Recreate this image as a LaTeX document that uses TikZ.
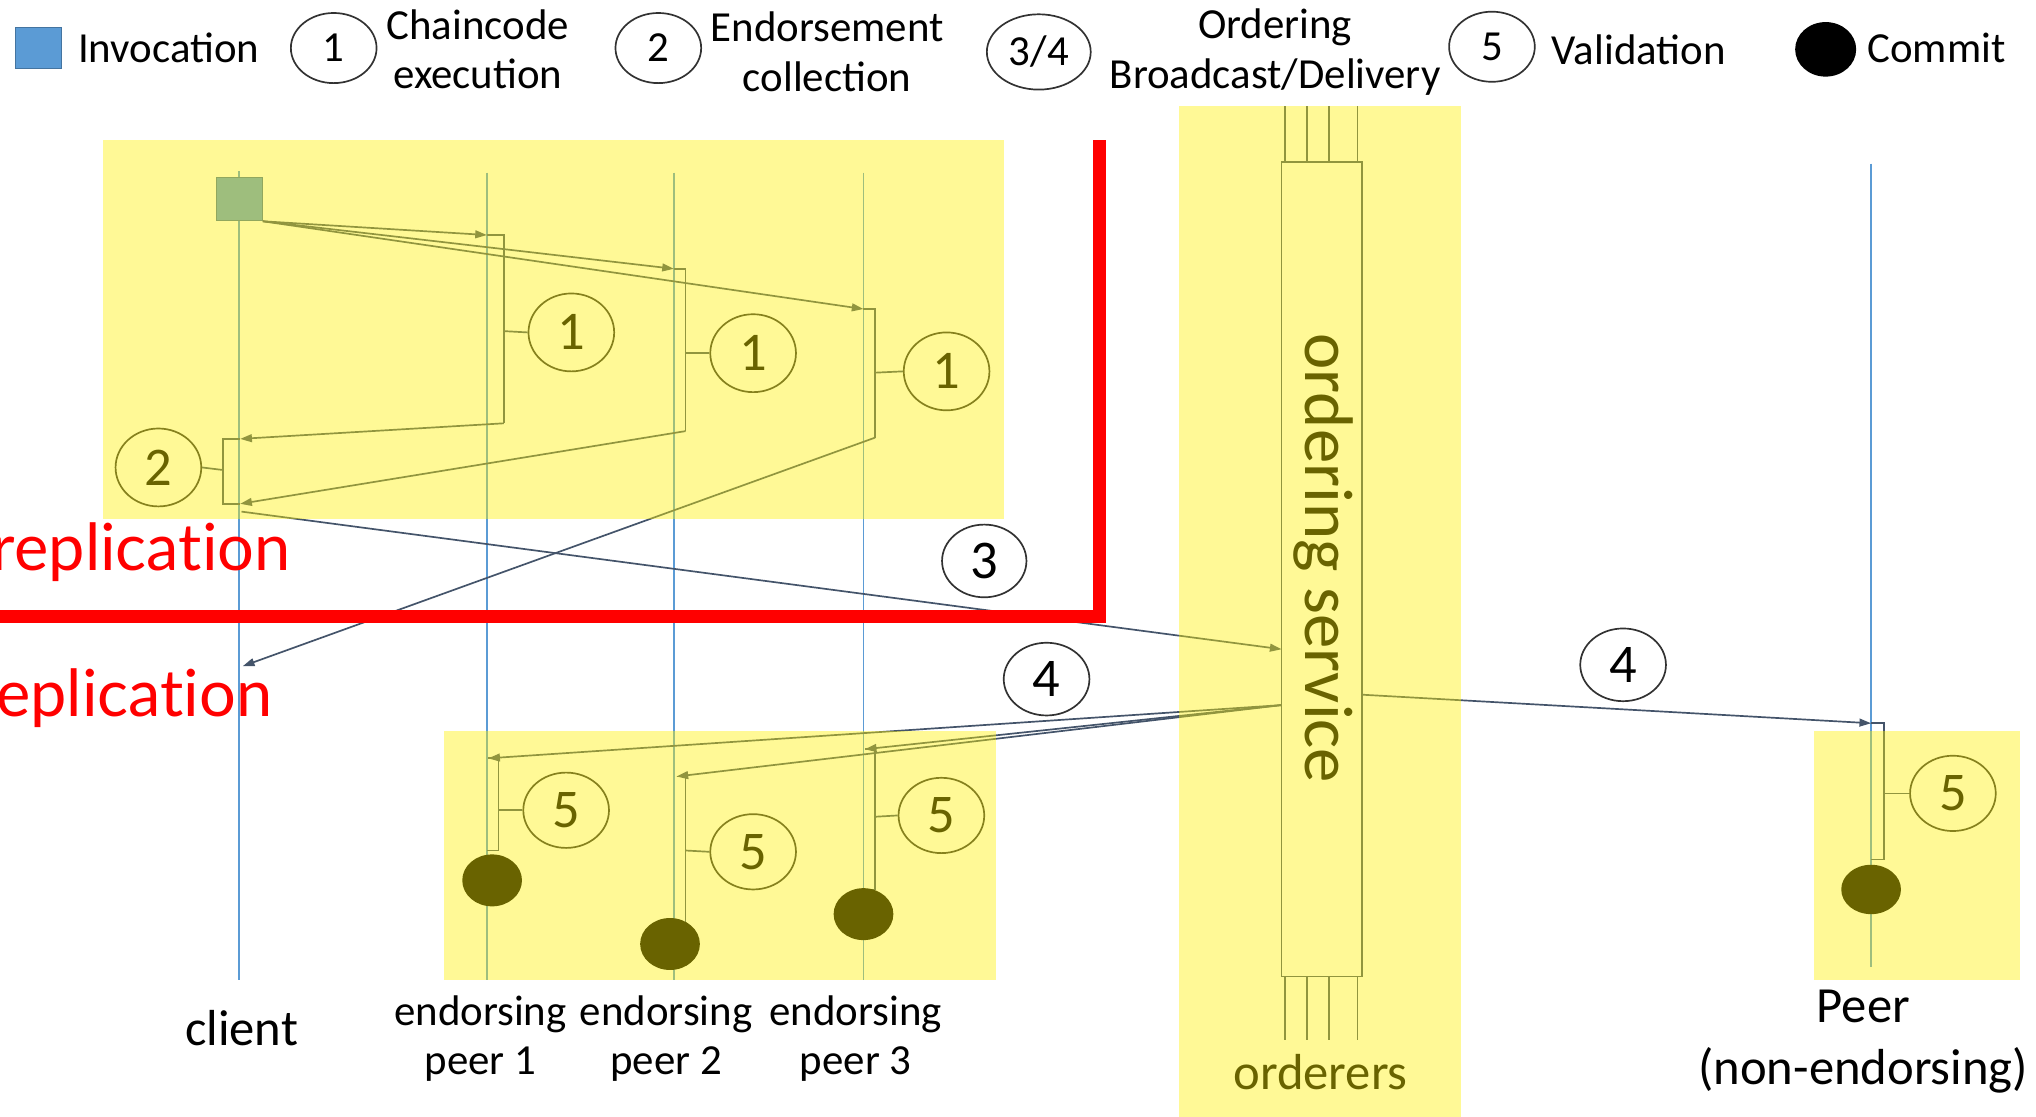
\documentclass[tikz,border=0pt]{standalone}
\usepackage{fontspec}
\setmainfont{Carlito}
\newfontfamily\repfamily{Lato}[Ligatures={NoCommon,NoRare,NoDiscretionary}]
\usetikzlibrary{arrows.meta,shapes.geometric,calc}

\definecolor{invblue}{RGB}{91,155,213}
\definecolor{lifeblue}{RGB}{91,155,213}
\definecolor{conncol}{RGB}{68,84,106}
\definecolor{ringcol}{RGB}{50,50,50}

\newcommand\lgfont{\fontsize{33}{38}\selectfont}
\newcommand\numfont{\fontsize{42}{46}\selectfont}
\newcommand\lbfont{\fontsize{39}{48}\selectfont}
\newcommand\rpfont{\repfamily\fontsize{50}{58}\selectfont}
\newcommand\osfont{\fontsize{53}{60}\selectfont}

\tikzset{
  every node/.style={font=\lgfont, inner sep=0pt},
  lifeline/.style={draw=lifeblue, line width=1.4pt},
  conn/.style={draw=conncol, line width=1.3pt},
  arr/.style={conn, -{Triangle[length=9pt,width=6pt]}},
  numc/.style={ellipse, draw=ringcol, line width=1.3pt, minimum width=66pt, minimum height=58pt},
  stepc/.style={numc, font=\numfont},
  commitdot/.style={ellipse, fill=black, minimum width=46pt, minimum height=40pt},
  hilite/.style={fill=yellow, fill opacity=0.41},
  redbar/.style={draw=red, line width=10pt},
}

\begin{document}
\begin{tikzpicture}[x=1pt,y=-1pt]
\useasboundingbox (0,0) rectangle (1568,860);
\clip (0,0) rectangle (1568,860);
\fill[white] (0,0) rectangle (1568,860);

% ---------- legend ----------
\node[fill=invblue, draw=invblue!75!black, line width=0.8pt, minimum width=35pt, minimum height=32pt] (lginv) at (29.5,37) {};
\node[anchor=west] (lginvt) at (60,37) {Invocation};
\node[numc, minimum height=54pt] (lg1) at (257,37) {1};
\node[align=center] (lg1t) at (368,38) {Chaincode\\execution};
\node[numc, minimum height=54pt] (lg2) at (507,37) {2};
\node[align=center] (lg2t) at (637,40) {Endorsement\\collection};
\node[numc, minimum width=80pt, minimum height=58pt] (lg34) at (800,40) {3/4};
\node[align=center] (lg34t) at (982,40) {Ordering\\Broadcast/Delivery};
\node[numc, minimum height=54pt] (lg5) at (1149,36) {5};
\node[anchor=west] (lg5t) at (1195,38) {Validation};
\node[commitdot, minimum width=47pt, minimum height=42pt] (lgc) at (1406,38) {};
\node[anchor=west] (lgct) at (1438,37) {Commit};

% ---------- lifelines ----------
\coordinate (clT) at (184,132);  \coordinate (clB) at (184,755);
\coordinate (e1T) at (375,133);  \coordinate (e1B) at (375,755);
\coordinate (e2T) at (519,133);  \coordinate (e2B) at (519,755);
\coordinate (e3T) at (665,133);  \coordinate (e3B) at (665,755);
\coordinate (npT) at (1441,126); \coordinate (npB) at (1441,745);
\draw[lifeline] (clT) -- (clB);
\draw[lifeline] (e1T) -- (e1B);
\draw[lifeline] (e2T) -- (e2B);
\draw[lifeline] (e3T) -- (e3B);
\draw[lifeline] (npT) -- (npB);

% ---------- ordering service ----------
\node[draw=conncol, line width=1.3pt, minimum width=62pt, minimum height=627pt] (osvc) at (1018,438.5) {};
\node[rotate=-90, font=\osfont] (ostext) at (1019,430) {ordering service};
\foreach \dx in {3,20,37,59} {
  \draw[conn] ($(osvc.north west)+(\dx,0)$) -- ++(0,-43);
  \draw[conn] ($(osvc.south west)+(\dx,0)$) -- ++(0,48);
}

% ---------- invocation and chaincode execution ----------
\node[fill=invblue, draw=invblue!75!black, line width=0.8pt, minimum width=35pt, minimum height=33pt] (inv) at (184.5,153.5) {};

\coordinate (x1a) at (375,181); \coordinate (x1b) at (388,326); \coordinate (x1t) at (388,255);
\coordinate (x2a) at (519,207); \coordinate (x2b) at (528,332); \coordinate (x2t) at (528,272);
\coordinate (x3a) at (665,238); \coordinate (x3b) at (674,337); \coordinate (x3t) at (674,287);

\draw[arr] (inv.south east) -- (x1a);
\draw[arr] (inv.south east) -- (x2a);
\draw[arr] (inv.south east) -- (x3a);
\draw[conn] (x1a) -| (x1b);
\draw[conn] (x2a) -| (x2b);
\draw[conn] (x3a) -| (x3b);

\node[stepc, minimum height=60pt] (n1a) at (440,256) {1};
\node[stepc, minimum height=60pt] (n1b) at (580,272) {1};
\node[stepc, minimum height=60pt] (n1c) at (729,286) {1};
\draw[conn] (x1t) -- (n1a.west);
\draw[conn] (x2t) -- (n1b.west);
\draw[conn] (x3t) -- (n1c.west);

% ---------- endorsement collection ----------
\coordinate (r1) at (185,338);
\coordinate (r2) at (185,388);
\coordinate (r3) at (187,513);
\coordinate (rb) at (172,388);
\coordinate (rt) at (172,362);
\draw[arr] (x1b) -- (r1);
\draw[arr] (x2b) -- (r2);
\draw[arr] (x3b) -- (r3);
\draw[conn] (r1) -| (rb) -- (r2);
\node[stepc, minimum height=60pt] (n2) at (122,360) {2};
\draw[conn] (rt) -- (n2.east);

% ---------- broadcast to ordering ----------
\coordinate (b3) at (186,394);
\coordinate (oin) at (987,500);
\draw[arr] (b3) -- (oin);
\node[stepc, minimum width=65pt, minimum height=56pt] (n3) at (758,432) {3};

% ---------- delivery to peers ----------
\coordinate (o4l) at (987,543);
\coordinate (o4r) at (1049,535);
\coordinate (v1a) at (376,584); \coordinate (v1b) at (384,655); \coordinate (v1e) at (375,655); \coordinate (v1t) at (384,624);
\coordinate (v2a) at (521,598); \coordinate (v2b) at (528,713); \coordinate (v2e) at (519,713); \coordinate (v2t) at (528,655);
\coordinate (v3a) at (666,577); \coordinate (v3b) at (674,685); \coordinate (v3e) at (665,685); \coordinate (v3t) at (674,629);
\coordinate (v4a) at (1441,557); \coordinate (v4b) at (1451,662); \coordinate (v4e) at (1441,662); \coordinate (v4t) at (1451,611);
\draw[arr] (o4l) -- (v1a);
\draw[arr] (o4l) -- (v2a);
\draw[arr] (o4l) -- (v3a);
\draw[arr] (o4r) -- (v4a);
\node[stepc, minimum height=56pt] (n4a) at (806,523) {4};
\node[stepc, minimum height=56pt] (n4b) at (1250,512) {4};

% ---------- validation and commit ----------
\draw[conn] (v1a) -| (v1b) -- (v1e);
\draw[conn] (v2a) -| (v2b) -- (v2e);
\draw[conn] (v3a) -| (v3b) -- (v3e);
\draw[conn] (v4a) -| (v4b) -- (v4e);
\node[stepc, minimum height=58pt] (n5a) at (436,624) {5};
\node[stepc, minimum height=58pt] (n5b) at (580,656) {5};
\node[stepc, minimum height=58pt] (n5c) at (725,628) {5};
\node[stepc, minimum height=58pt] (n5d) at (1504,611) {5};
\draw[conn] (v1t) -- (n5a.west);
\draw[conn] (v2t) -- (n5b.west);
\draw[conn] (v3t) -- (n5c.west);
\draw[conn] (v4t) -- (n5d.west);
\node[commitdot] (cm1) at (379,678) {};
\node[commitdot] (cm2) at (516,727) {};
\node[commitdot] (cm3) at (665,704) {};
\node[commitdot, minimum height=38pt] (cm4) at (1441,685) {};

% ---------- participant labels ----------
\node[font=\lbfont] (lcl) at (186,792) {client};
\node[align=center] (le1) at (370,800) {endorsing\\peer 1};
\node[align=center] (le2) at (513,800) {endorsing\\peer 2};
\node[align=center] (le3) at (659,800) {endorsing\\peer 3};
\node[font=\lbfont] (lord) at (1017,826) {orderers};
\node[font=\lbfont, align=center] (lnp) at (1435,802) {Peer\\(non-endorsing)};

% ---------- highlighted regions ----------
\path[hilite] (79,108) rectangle (773,400);
\path[hilite] (908,82) rectangle (1125,860);
\path[hilite] (342,563) rectangle (767,755);
\path[hilite] (1397,563) rectangle (1556,755);

% ---------- replication boundary ----------
\draw[redbar] (0,475) -- (852,475);
\draw[redbar] (847,108) -- (847,480);
\node[text=red, font=\rpfont, anchor=base east] (rep1) at (224,439) {replication};
\node[text=red, font=\rpfont, anchor=base east] (rep2) at (210,552) {replication};
\end{tikzpicture}
\end{document}
